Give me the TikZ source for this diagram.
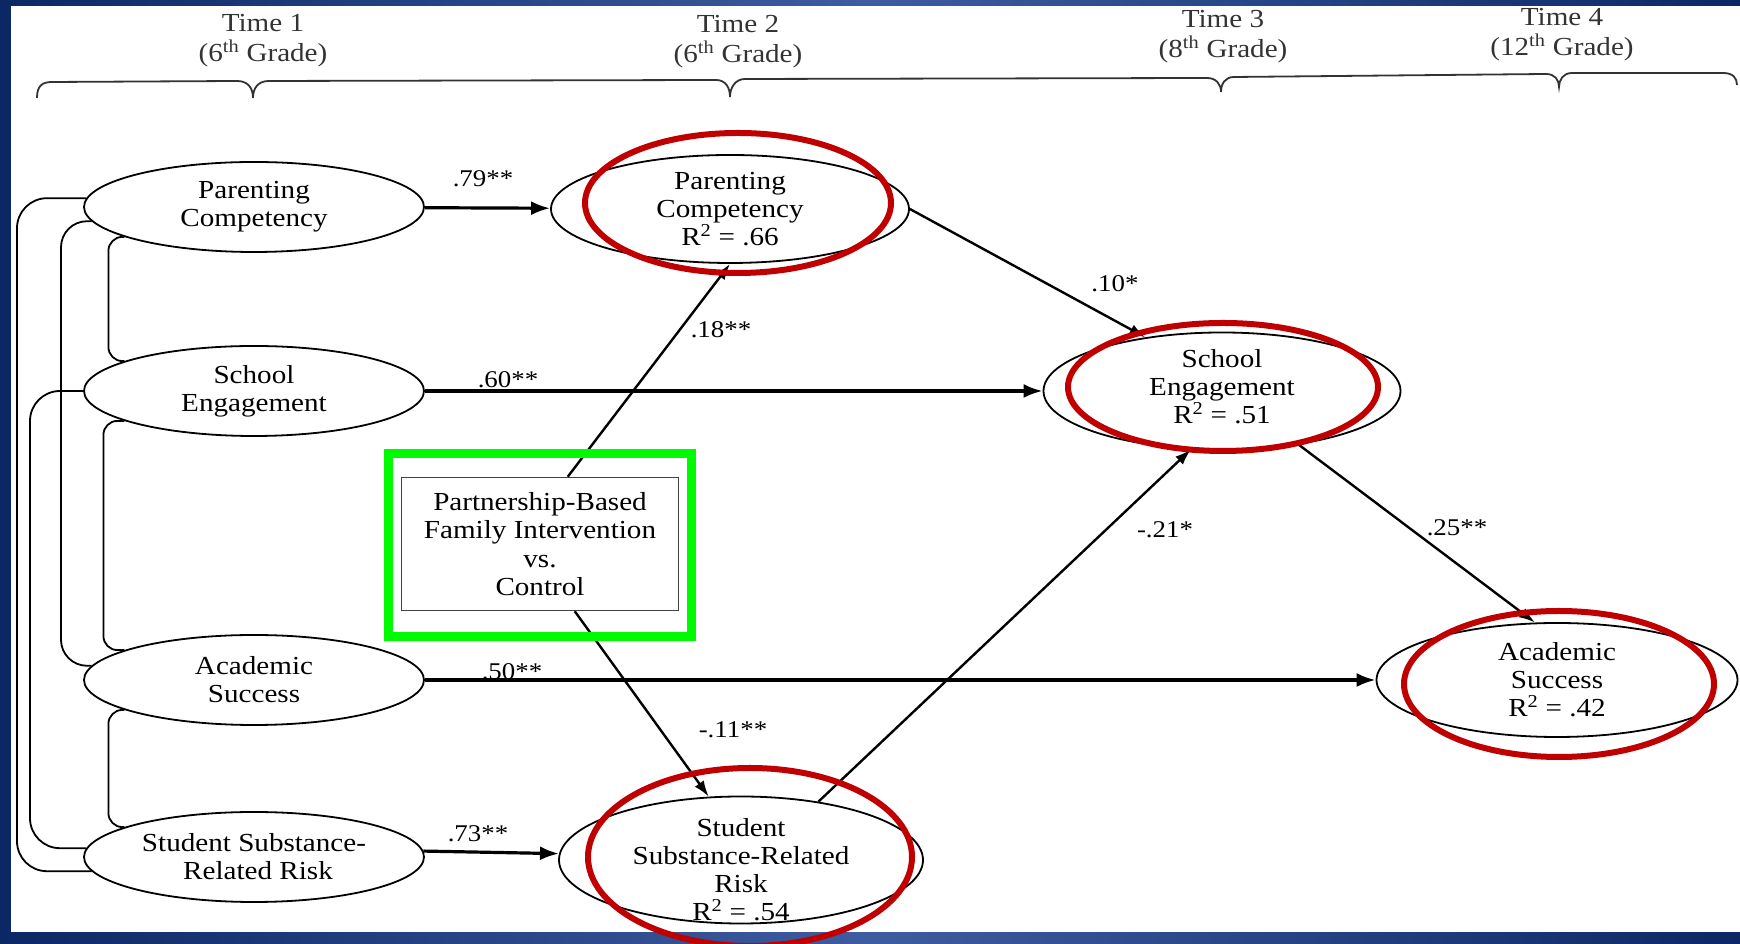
\documentclass[tikz,border=0pt]{standalone}
\usepackage{fontspec}
\setmainfont{Liberation Serif}[FakeStretch=1.12]
\usepackage{xcolor}
\usepackage{tikz}
\usetikzlibrary{arrows.meta}
\usetikzlibrary{shapes.geometric}
\usetikzlibrary{positioning}

\definecolor{navydark}{RGB}{12,40,100}
\definecolor{navylight}{RGB}{62,92,160}
\definecolor{ringred}{RGB}{192,0,0}
\definecolor{boxgreen}{RGB}{0,250,0}

\begin{document}
\begin{tikzpicture}[x=1pt,y=1pt,>={Latex[length=19pt,width=14pt]},semithick]
	\tikzstyle{txt}=[align=center, font=\fontsize{26}{28}\selectfont]
	\tikzstyle{var}=[draw, ellipse, line width=1.8pt, inner sep=0pt, minimum width=340pt, minimum height=90pt, txt]
	\tikzstyle{dep}=[draw, ellipse, line width=1.8pt, inner sep=0pt]
	\tikzstyle{coef}=[font=\fontsize{24}{24}\selectfont, inner sep=0pt]
	\tikzstyle{arr}=[->, line width=2.4pt]
	\tikzstyle{cov}=[line width=1.8pt, rounded corners=14pt]
	\tikzstyle{ring}=[draw=ringred, line width=6pt]

	\useasboundingbox (0,0) rectangle (1740,944);
	\shade[left color=navydark, right color=navydark, middle color=navylight] (0,0) rectangle (1740,944);
	\fill[white] (11,12) rectangle (1740,938);

	% time axis
	\node[txt, text=black!80, font=\fontsize{26}{30}\selectfont] (t1) at (263,903) {Time 1\\(6\textsuperscript{th} Grade)};
	\node[txt, text=black!80, font=\fontsize{26}{30}\selectfont] (t2) at (738,902) {Time 2\\(6\textsuperscript{th} Grade)};
	\node[txt, text=black!80, font=\fontsize{26}{30}\selectfont] (t3) at (1223,907) {Time 3\\(8\textsuperscript{th} Grade)};
	\node[txt, text=black!80, font=\fontsize{26}{30}\selectfont] (t4) at (1562,909) {Time 4\\(12\textsuperscript{th} Grade)};
	\draw[line width=1.8pt, black!80] (37,846) .. controls (37,858) and (42,862) .. (52,862) -- (237,863)
		.. controls (248,863) and (253,856) .. (253,846) .. controls (253,856) and (258,863) .. (269,863) -- (716,864)
		.. controls (726,864) and (730,856) .. (730,847) .. controls (730,856) and (735,865) .. (745,865) -- (1207,866)
		.. controls (1216,866) and (1221,860) .. (1221,852) .. controls (1221,860) and (1225,867) .. (1234,867) -- (1546,870)
		.. controls (1555,870) and (1559,864) .. (1559,857) .. controls (1559,864) and (1563,871) .. (1572,871) -- (1723,871)
		.. controls (1733,871) and (1737,866) .. (1737,859);

	% time 1
	\node[var] (pc1) at (254,737) {Parenting\\Competency};
	\node[var] (se1) at (254,553) {School\\Engagement};
	\node[var] (as1) at (254,264) {Academic\\Success};
	\node[var] (sr1) at (254,87) {Student Substance-\\\hspace*{8pt}Related Risk};

	% later times
	\node[dep, minimum width=358pt, minimum height=108pt, label={[txt, name=pc2t]center:Parenting\\Competency\\R\textsuperscript{2} = .66}] (pc2) at (730,735) {};
	\node[dep, minimum width=357pt, minimum height=117pt, label={[txt, name=se3t, yshift=4pt]center:School\\Engagement\\R\textsuperscript{2} = .51}] (se3) at (1222,553) {};
	\node[dep, minimum width=361pt, minimum height=114pt, label={[txt, name=as4t]center:Academic\\Success\\R\textsuperscript{2} = .42}] (as4) at (1557,264) {};
	\node[dep, minimum width=364pt, minimum height=127pt, label={[txt, name=sr2t, yshift=-10pt]center:Student\\Substance-Related\\Risk\\R\textsuperscript{2} = .54}] (sr2) at (741,84) {};

	\node[draw, line width=1.5pt, black!75, text=black, minimum width=277pt, minimum height=133pt, txt, font=\fontsize{26}{28.5}\selectfont] (box) at (540,400) {Partnership-Based\\Family Intervention\\vs.\\Control};

	\coordinate (xa) at (17,0);
	\coordinate (xb) at (30,0);
	\coordinate (xc) at (61,0);
	\draw[cov] (pc1.193) -| ([xshift=-16pt]se1.167) -- (se1.167);
	\draw[cov] (se1.193) -| ([xshift=-21pt]as1.167) -- (as1.167);
	\draw[cov] (as1.193) -| ([xshift=-16pt]sr1.167) -- (sr1.167);
	\draw[cov, rounded corners=26pt] (pc1.185) -| (as1.175 -| xc) -- (as1.175);
	\draw[cov, rounded corners=30pt] (se1.180) -| (sr1.177 -| xb) -- (sr1.177);
	\draw[cov, rounded corners=30pt] (pc1.177) -| (sr1.185 -| xa) -- (sr1.185);

	\path[arr]
		(pc1) edge[line width=3.2pt] (pc2)
		(se1) edge[line width=3.2pt] (se3)
		(as1) edge[line width=3.2pt] (as4)
		(sr1.2) edge[line width=3.2pt] (sr2.178)
		([xshift=167pt]box.north west) edge[-{Latex[length=16pt,width=11pt]}] (pc2.south)
		([xshift=174pt]box.south west) edge[-{Latex[length=16pt,width=11pt]}] (sr2.117)
		(pc2.east) edge[-{Latex[length=16pt,width=11pt]}] (se3.145)
		(sr2.37) edge[-{Latex[length=16pt,width=11pt]}] (se3.242)
		(se3.325) edge[-{Latex[length=16pt,width=11pt]}] (as4.111);

	\node[coef] (c79) at (483,765) {.79**};
	\node[coef] (c60) at (508,564) {.60**};
	\node[coef] (c50) at (512,272) {.50**};
	\node[coef] (c73) at (478,110) {.73**};
	\node[coef] (c18) at (721,614) {.18**};
	\node[coef] (c11) at (733,214) {-.11**};
	\node[coef] (c10) at (1115,660) {.10*};
	\node[coef] (c21) at (1165,414) {-.21*};
	\node[coef] (c25) at (1457,416) {.25**};

	% highlights
	\node[draw=boxgreen, line width=9pt, minimum width=303pt, minimum height=183pt] (frame) at (540,399) {};
	\draw[ring] (738,741) ellipse [x radius=153pt, y radius=70pt];
	\draw[ring] (1223,557) ellipse [x radius=155pt, y radius=64pt];
	\draw[ring] (1559,260) ellipse [x radius=155pt, y radius=73pt];
	\draw[ring] (750,87) ellipse [x radius=162pt, y radius=89pt];
\end{tikzpicture}
\end{document}
